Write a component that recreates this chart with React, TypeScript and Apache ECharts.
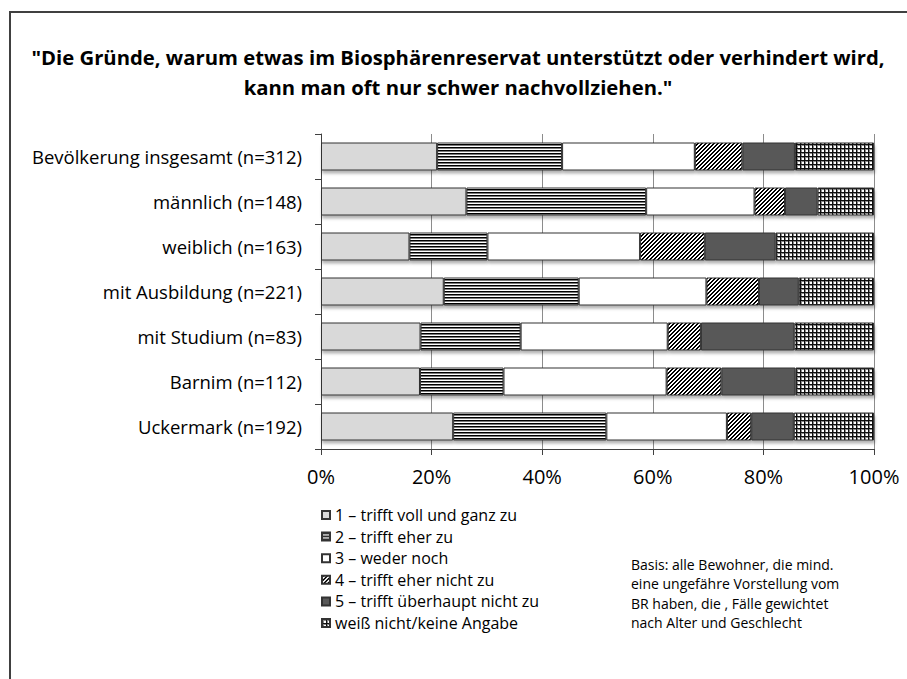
import React, { useEffect, useRef } from "react";
import * as echarts from "echarts";

const categories = [
  "Bevölkerung insgesamt (n=312)",
  "männlich (n=148)",
  "weiblich (n=163)",
  "mit Ausbildung (n=221)",
  "mit Studium (n=83)",
  "Barnim (n=112)",
  "Uckermark (n=192)",
];

const seriesNames = [
  "1 – trifft voll und ganz zu",
  "2 – trifft eher zu",
  "3 – weder noch",
  "4 – trifft eher nicht zu",
  "5 – trifft überhaupt nicht zu",
  "weiß nicht/keine Angabe",
];

const voll = [21.0, 26.3, 16.0, 22.2, 18.0, 17.9, 23.9];
const eher = [22.6, 32.5, 14.1, 24.4, 18.1, 15.1, 27.7];
const weder = [24.0, 19.6, 27.6, 23.1, 26.6, 29.5, 21.8];
const eherNicht = [8.6, 5.5, 11.7, 9.5, 6.0, 9.9, 4.4];
const ueberhauptNicht = [9.5, 5.9, 12.8, 7.2, 16.9, 13.4, 7.7];
const weissNicht = [14.3, 10.2, 17.8, 13.6, 14.4, 14.2, 14.5];

const xTicks = [0, 20, 40, 60, 80, 100];

const titleLines = [
  "\"Die Gründe, warum etwas im Biosphärenreservat unterstützt oder verhindert wird,",
  "kann man oft nur schwer nachvollziehen.\"",
];

const basisLines = [
  "Basis: alle Bewohner, die mind.",
  "eine ungefähre Vorstellung vom",
  "BR haben, die , Fälle gewichtet",
  "nach Alter und Geschlecht",
];

function hex(c: string): [number, number, number] {
  const v = parseInt(c.slice(1), 16);
  return [(v >> 16) & 255, (v >> 8) & 255, v & 255];
}

function makePattern(w: number, h: number, fn: (x: number, y: number) => string) {
  const cv = document.createElement("canvas");
  cv.width = w;
  cv.height = h;
  const ctx = cv.getContext("2d")!;
  const img = ctx.createImageData(w, h);
  for (let y = 0; y < h; y++) {
    for (let x = 0; x < w; x++) {
      const [r, g, b] = hex(fn(x, y));
      const i = (y * w + x) * 4;
      img.data[i] = r;
      img.data[i + 1] = g;
      img.data[i + 2] = b;
      img.data[i + 3] = 255;
    }
  }
  ctx.putImageData(img, 0, 0);
  return { image: cv, repeat: "repeat" as const };
}

export default function App() {
  const ref = useRef<HTMLDivElement>(null);
  useEffect(() => {
    if (!ref.current) return;
    const chart = echarts.init(ref.current, null, { renderer: "svg" });

    const hLines = makePattern(4, 3, (_x, y) => (y === 0 ? "#000000" : y === 1 ? "#7a7a7a" : "#ffffff"));
    const diag = makePattern(4, 4, (x, y) => ((x + y) % 4 < 2 ? "#000000" : "#ffffff"));
    const grid = makePattern(4, 4, (x, y) =>
      x % 4 === 0 || y % 4 === 0 ? "#111111" : x % 4 === 1 || y % 4 === 1 ? "#8a8a8a" : "#ffffff"
    );

    const colors: any[] = ["#d9d9d9", hLines, "#ffffff", diag, "#595959", grid];
    const datas = [voll, eher, weder, eherNicht, ueberhauptNicht, weissNicht];

    const font = "'Open Sans', sans-serif";

    chart.setOption({
      animation: false,
      backgroundColor: "#ffffff",
      grid: { left: 321, right: 33, top: 134, bottom: 230, containLabel: false },
      xAxis: {
        type: "value",
        min: 0,
        max: 100,
        interval: 20,
        axisLine: { show: true, lineStyle: { color: "#404040", width: 1 } },
        axisTick: { show: true, length: 6, lineStyle: { color: "#404040" } },
        splitLine: { show: true, lineStyle: { color: "#8c8c8c", width: 1 } },
        axisLabel: {
          formatter: (v: number) => (xTicks.includes(v) ? v + "%" : ""),
          color: "#000000",
          fontSize: 20,
          fontFamily: font,
          margin: 17,
        },
      },
      yAxis: {
        type: "category",
        inverse: true,
        data: categories,
        axisLine: { show: true, lineStyle: { color: "#404040", width: 1 } },
        axisTick: { show: true, length: 6, lineStyle: { color: "#404040" } },
        axisLabel: { color: "#000000", fontSize: 18.5, fontFamily: font, margin: 19 },
      },
      legend: {
        orient: "vertical",
        left: 316,
        top: 501,
        itemWidth: 8,
        itemHeight: 8,
        itemGap: 3.6,
        icon: "rect",
        data: seriesNames,
        textStyle: { color: "#000000", fontSize: 16, fontFamily: font, lineHeight: 18 },
      },
      graphic: [
        {
          type: "rect",
          shape: { x: 10, y: 12, width: 1000, height: 1000 },
          style: { fill: "none", stroke: "#404040", lineWidth: 2 },
          silent: true,
        },
        ...titleLines.map((t, i) => ({
          type: "text",
          x: 458,
          y: 57 + i * 30,
          style: {
            text: t,
            fill: "#000000",
            font: `bold 20.3px ${font}`,
            textAlign: "center",
            textVerticalAlign: "middle",
          },
        })),
        ...basisLines.map((t, i) => ({
          type: "text",
          x: 631,
          y: 564 + i * 19.5,
          style: {
            text: t,
            fill: "#000000",
            font: `14px ${font}`,
            textAlign: "left",
            textVerticalAlign: "middle",
          },
        })),
      ],
      series: datas.map((d, i) => ({
        name: seriesNames[i],
        type: "bar",
        stack: "total",
        barWidth: 28,
        data: d,
        itemStyle: {
          color: colors[i],
          borderColor: "#333333",
          borderWidth: 1,
          shadowColor: "rgba(0,0,0,0.3)",
          shadowBlur: 3,
          shadowOffsetX: 1,
          shadowOffsetY: 3,
        },
        emphasis: { disabled: true },
      })),
    });
    return () => chart.dispose();
  }, []);
  return (
    <div
      ref={ref}
      style={{ position: "absolute", left: 0, top: 0, width: 907, height: 679 }}
    />
  );
}
